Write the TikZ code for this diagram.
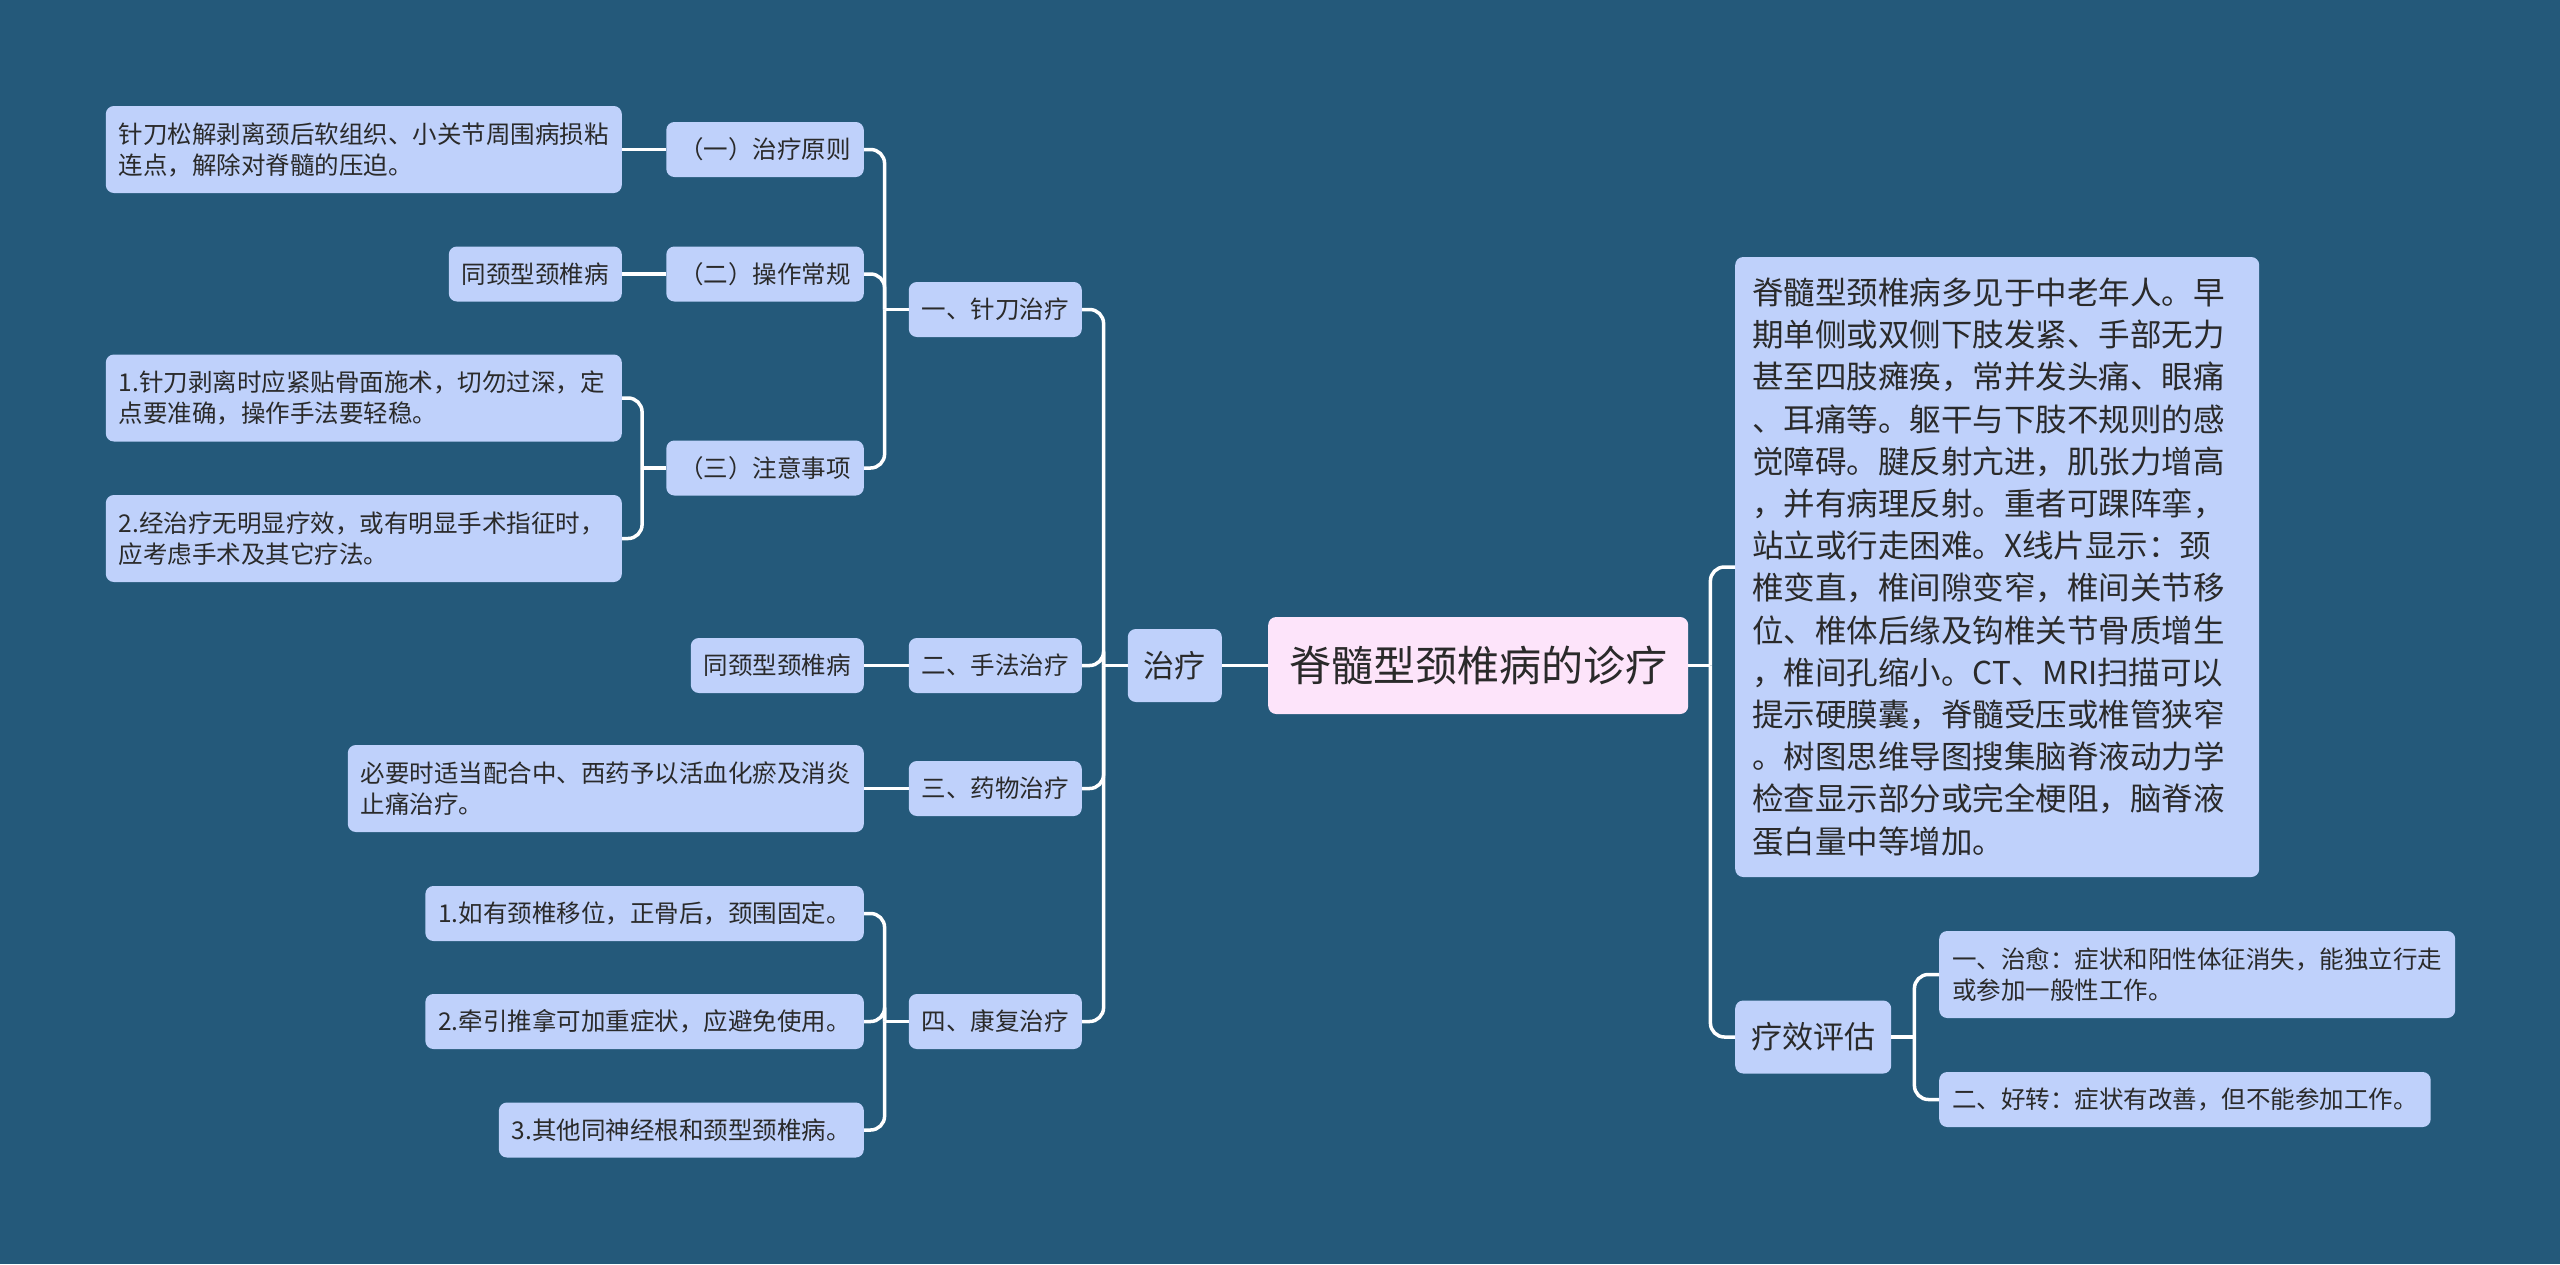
\documentclass[tikz,border=0pt]{standalone}
\usepackage{fontspec}
\newfontfamily\cjk{Noto Sans CJK SC}
\definecolor{bgblue}{RGB}{36,89,122}
\definecolor{nodeblue}{RGB}{191,209,251}
\definecolor{rootpink}{RGB}{253,228,250}
\definecolor{txt}{RGB}{42,42,42}
\tikzset{
  boxbase/.style={rounded corners=8pt, fill=nodeblue, text=txt, inner ysep=0pt},
  leaf/.style={boxbase, font=\cjk\fontsize{24.5}{31}\selectfont, inner xsep=13pt, minimum height=55pt},
  wrapleaf/.style={leaf, text width=490pt, align=left, minimum height=87pt},
  midnode/.style={boxbase, font=\cjk\fontsize{31}{40}\selectfont, inner xsep=16pt, minimum height=73pt},
  rootnode/.style={boxbase, fill=rootpink, font=\cjk\fontsize{42}{50}\selectfont, inner xsep=21pt, minimum height=97pt},
  bigbox/.style={boxbase, font=\cjk\fontsize{31.5}{42.2}\selectfont, text width=490pt, align=left, inner xsep=17pt, minimum height=620pt},
  conn/.style={draw=white, line width=3.5pt},
  elbow/.style={conn, rounded corners=14pt}
}
\begin{document}
\begin{tikzpicture}[x=1pt, y=-1pt]
\fill[bgblue] (0,0) rectangle (2560,1264);
\useasboundingbox (0,0) rectangle (2560,1264);

% root and first level
\node[rootnode, anchor=west] (root) at (1268,665.5) {脊髓型颈椎病的诊疗};
\node[midnode, anchor=east] (zl) at (1222,665.5) {治疗};
\node[midnode, anchor=west] (pg) at (1735,1037) {疗效评估};
\node[bigbox, anchor=west] (bb) at (1735,567) {脊髓型颈椎病多见于中老年人。早\\期单侧或双侧下肢发紧、手部无力\\甚至四肢瘫痪，常并发头痛、眼痛\\、耳痛等。躯干与下肢不规则的感\\觉障碍。腱反射亢进，肌张力增高\\，并有病理反射。重者可踝阵挛，\\站立或行走困难。X线片显示：颈\\椎变直，椎间隙变窄，椎间关节移\\位、椎体后缘及钩椎关节骨质增生\\，椎间孔缩小。CT、MRI扫描可以\\提示硬膜囊，脊髓受压或椎管狭窄\\。树图思维导图搜集脑脊液动力学\\检查显示部分或完全梗阻，脑脊液\\蛋白量中等增加。};

% treatment branches
\node[leaf, anchor=east] (n1) at (1082,309.5) {一、针刀治疗};
\node[leaf, anchor=east] (n2) at (1082,665.5) {二、手法治疗};
\node[leaf, anchor=east] (n3) at (1082,788.5) {三、药物治疗};
\node[leaf, anchor=east] (n4) at (1082,1021.5) {四、康复治疗};

\node[leaf, anchor=east] (n1a) at (864,149.5) {（一）治疗原则};
\node[leaf, anchor=east] (n1b) at (864,274) {（二）操作常规};
\node[leaf, anchor=east] (n1c) at (864,468) {（三）注意事项};

\node[wrapleaf, anchor=east] (n11) at (622,149.5) {针刀松解剥离颈后软组织、小关节周围病损粘\\连点，解除对脊髓的压迫。};
\node[leaf, anchor=east] (n12) at (622,274) {同颈型颈椎病};
\node[wrapleaf, anchor=east] (n13a) at (622,398) {1.针刀剥离时应紧贴骨面施术，切勿过深，定\\点要准确，操作手法要轻稳。};
\node[wrapleaf, anchor=east] (n13b) at (622,538.5) {2.经治疗无明显疗效，或有明显手术指征时，\\应考虑手术及其它疗法。};

\node[leaf, anchor=east] (n2c) at (864,665.5) {同颈型颈椎病};
\node[wrapleaf, anchor=east] (n3c) at (864,788.5) {必要时适当配合中、西药予以活血化瘀及消炎\\止痛治疗。};

\node[leaf, anchor=east] (n41) at (864,913.5) {1.如有颈椎移位，正骨后，颈围固定。};
\node[leaf, anchor=east] (n42) at (864,1021.5) {2.牵引推拿可加重症状，应避免使用。};
\node[leaf, anchor=east] (n43) at (864,1130) {3.其他同神经根和颈型颈椎病。};

% evaluation children
\node[wrapleaf, anchor=west] (r1) at (1939,974.5) {一、治愈：症状和阳性体征消失，能独立行走\\或参加一般性工作。};
\node[leaf, anchor=west] (r2) at (1939,1099.5) {二、好转：症状有改善，但不能参加工作。};

% connectors
\draw[conn] (root.west) -- (zl.east);
\path (zl.west) ++(-24,0) coordinate (jzl);
\draw[conn] (zl.west) -- (jzl);
\foreach \c in {n1,n2,n3,n4} \draw[elbow] (jzl) |- (\c.east);

\path (n1.west) ++(-24,0) coordinate (jn1);
\draw[conn] (n1.west) -- (jn1);
\foreach \c in {n1a,n1b,n1c} \draw[elbow] (jn1) |- (\c.east);

\draw[conn] (n1a.west) -- (n11.east);
\draw[conn] (n1b.west) -- (n12.east);

\path (n1c.west) ++(-24,0) coordinate (jn1c);
\draw[conn] (n1c.west) -- (jn1c);
\foreach \c in {n13a,n13b} \draw[elbow] (jn1c) |- (\c.east);

\draw[conn] (n2.west) -- (n2c.east);
\draw[conn] (n3.west) -- (n3c.east);

\path (n4.west) ++(-24,0) coordinate (jn4);
\draw[conn] (n4.west) -- (jn4);
\foreach \c in {n41,n42,n43} \draw[elbow] (jn4) |- (\c.east);

\path (root.east) ++(22,0) coordinate (jr);
\draw[conn] (root.east) -- (jr);
\foreach \c in {bb,pg} \draw[elbow] (jr) |- (\c.west);

\path (pg.east) ++(23,0) coordinate (jpg);
\draw[conn] (pg.east) -- (jpg);
\foreach \c in {r1,r2} \draw[elbow] (jpg) |- (\c.west);
\end{tikzpicture}
\end{document}
